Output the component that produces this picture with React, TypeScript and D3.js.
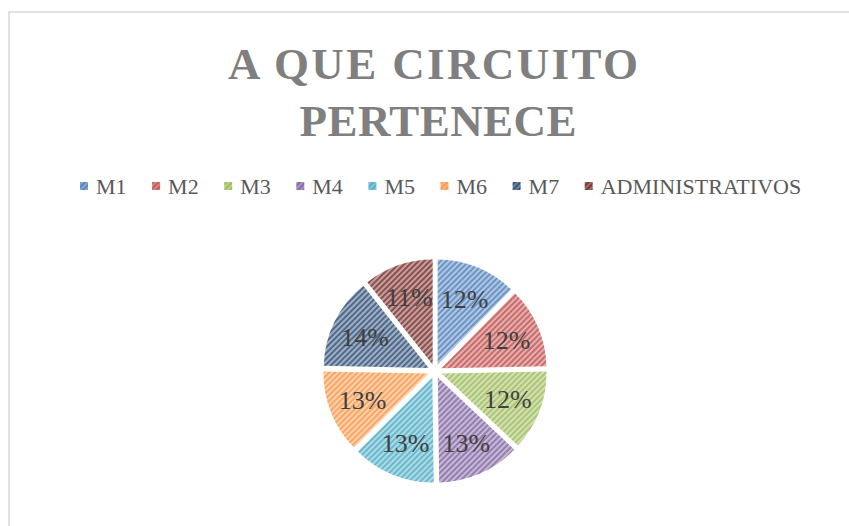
import React from "react";
import * as d3 from "d3";

const categories = ["M1", "M2", "M3", "M4", "M5", "M6", "M7", "ADMINISTRATIVOS"];
const values = [30, 30, 30, 31, 31, 31, 34, 26];
const colors = ["#4F81BD", "#C0504D", "#9BBB59", "#8064A2", "#4BACC6", "#F79646", "#2C4D75", "#772C2A"];
const titleLines = ["A QUE CIRCUITO", "PERTENECE"];

const W = 849;
const H = 526;
const CX = 435;
const CY = 371;
const R = 105;
const EXPLODE = 7;
const LABEL_R = 71;

export default function App() {
  const total = d3.sum(values);
  const pie = d3.pie<number>().sort(null).value((d) => d)(values);
  const arc = d3.arc<d3.PieArcDatum<number>>().innerRadius(0).outerRadius(R);
  const fmt = d3.format(".0%");
  const legendStep = 72.1;
  const legendX0 = 80;

  return (
    <svg
      width={W}
      height={H}
      style={{ position: "absolute", left: 0, top: 0, display: "block" }}
      xmlns="http://www.w3.org/2000/svg"
    >
      <defs>
        {colors.map((c, i) => {
          const light = d3.interpolateRgb(c, "#ffffff")(0.55);
          return (
            <pattern
              key={i}
              id={`pat${i}`}
              patternUnits="userSpaceOnUse"
              width={4}
              height={4}
              patternTransform="rotate(45)"
            >
              <rect width={4} height={4} fill={light} />
              <rect width={2} height={4} fill={c} opacity={0.7} />
            </pattern>
          );
        })}
        {colors.map((c, i) => (
          <pattern key={`s${i}`} id={`sq${i}`} patternUnits="userSpaceOnUse" width={4} height={4} patternTransform="rotate(45)">
            <rect width={4} height={4} fill={d3.interpolateRgb(c, "#ffffff")(0.3)} />
            <rect width={2} height={4} fill={c} opacity={0.8} />
          </pattern>
        ))}
      </defs>
      <rect x={0} y={0} width={W} height={H} fill="#ffffff" />
      <rect x={9} y={12} width={W + 20} height={H + 20} fill="#ffffff" stroke="#d9d9d9" strokeWidth={1.5} />

      <g fill="#7f7f7f" fontFamily="'Liberation Serif', serif" fontWeight="bold" fontSize={45} textAnchor="middle">
        <text x={433} y={79} textLength={410} lengthAdjust="spacing">
          {titleLines[0]}
        </text>
        <text x={438} y={136} textLength={277} lengthAdjust="spacing">
          {titleLines[1]}
        </text>
      </g>

      <g fontFamily="'Liberation Serif', serif" fontSize={22} fill="#595959">
        {categories.map((c, i) => {
          const x = legendX0 + i * legendStep;
          return (
            <g key={c}>
              <rect x={x} y={182} width={8} height={8} fill={`url(#sq${i})`} />
              <text x={x + 16} y={194}>
                {c}
              </text>
            </g>
          );
        })}
      </g>

      <g>
        {pie.map((p, i) => {
          const mid = (p.startAngle + p.endAngle) / 2;
          const ox = CX + EXPLODE * Math.sin(mid);
          const oy = CY - EXPLODE * Math.cos(mid);
          return (
            <g key={i} transform={`translate(${ox},${oy})`}>
              <path d={arc(p) || ""} fill={`url(#pat${i})`} />
            </g>
          );
        })}
        {pie.map((p, i) => {
          const mid = (p.startAngle + p.endAngle) / 2;
          const ox = CX + EXPLODE * Math.sin(mid);
          const oy = CY - EXPLODE * Math.cos(mid);
          const lx = ox + LABEL_R * Math.sin(mid);
          const ly = oy - LABEL_R * Math.cos(mid);
          return (
            <text
              key={`l${i}`}
              x={lx}
              y={ly}
              dy="0.35em"
              textAnchor="middle"
              fontFamily="'Liberation Serif', serif"
              fontSize={26}
              fill="#404040"
            >
              {fmt(p.value / total)}
            </text>
          );
        })}
      </g>
    </svg>
  );
}
